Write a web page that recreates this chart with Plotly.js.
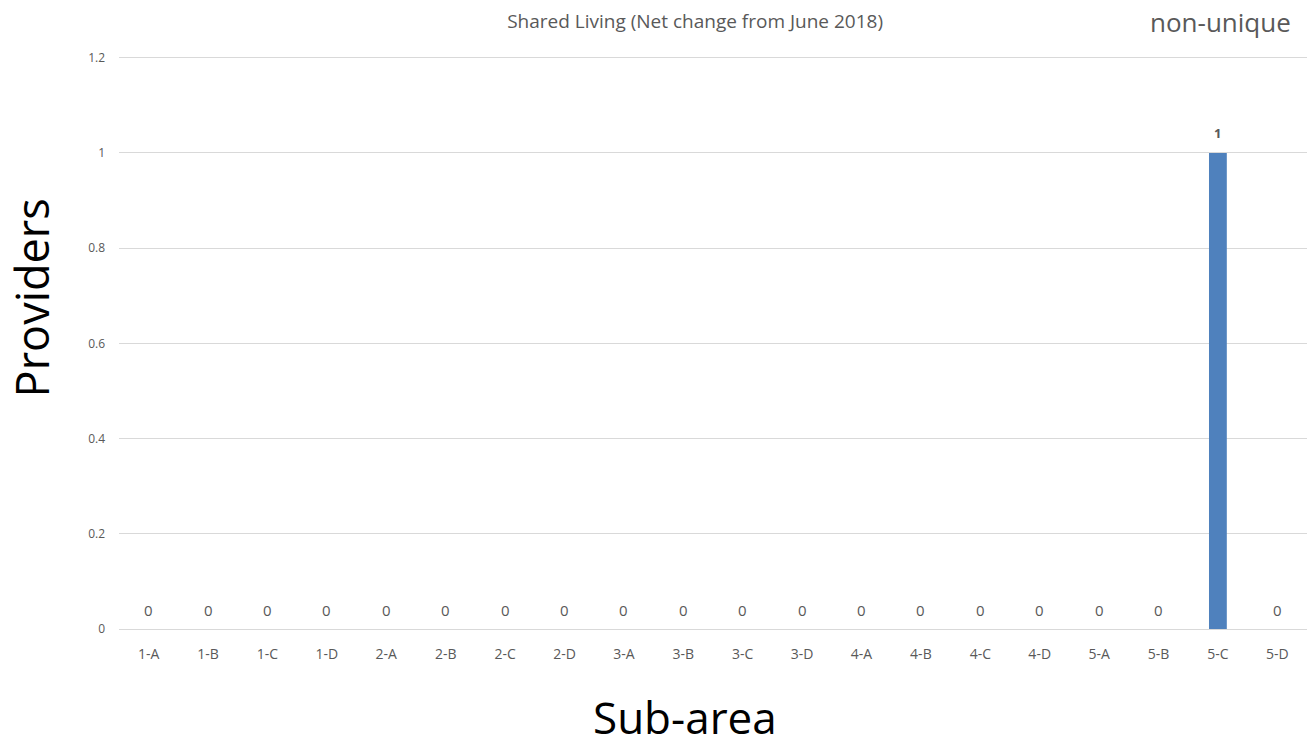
<!DOCTYPE html>
<html>
<head>
<meta charset="utf-8">
<script src="https://cdn.plot.ly/plotly-3.0.1.min.js"></script>
<style>html,body{margin:0;padding:0;background:#fff;}#chart{width:1314px;height:751px;}</style>
</head>
<body>
<div id="chart"></div>
<script>
const categories = ['1-A','1-B','1-C','1-D','2-A','2-B','2-C','2-D','3-A','3-B','3-C','3-D','4-A','4-B','4-C','4-D','5-A','5-B','5-C','5-D'];
const providers = [0,0,0,0,0,0,0,0,0,0,0,0,0,0,0,0,0,0,1,0];
const yTicks = [0,0.2,0.4,0.6,0.8,1,1.2];

const trace = {
  type: 'bar',
  x: categories,
  y: providers,
  marker: {color: '#4f81bd'},
  hoverinfo: 'x+y'
};

const valueLabels = categories.map((c, i) => ({
  x: c, y: providers[i], xref: 'x', yref: 'y',
  text: providers[i] > 0 ? '<b>' + providers[i] + '</b>' : String(providers[i]),
  showarrow: false, yanchor: 'middle', xanchor: 'center',
  yshift: providers[i] > 0 ? 20 : 19,
  font: {size: providers[i] > 0 ? 13 : 15, color: '#595959'}
}));

const layout = {
  width: 1314, height: 751,
  margin: {l: 119, r: 7, t: 53, b: 122},
  paper_bgcolor: '#fff', plot_bgcolor: '#fff',
  font: {family: 'Open Sans, sans-serif', color: '#595959'},
  showlegend: false,
  bargap: 0.7,
  title: {text: 'Shared Living (Net change from June 2018)', font: {size: 19, color: '#595959'}, x: 0.529, xanchor: 'center', y: 0.972, yanchor: 'middle'},
  xaxis: {
    type: 'category',
    showgrid: false,
    showline: true, linecolor: '#d9d9d9', linewidth: 1,
    ticks: '', tickfont: {size: 14, color: '#595959'},
    ticklabelstandoff: 12
  },
  yaxis: {
    range: [0, 1.21],
    tickvals: yTicks,
    ticktext: yTicks.map(String),
    showgrid: true, gridcolor: '#d9d9d9', gridwidth: 1,
    zeroline: false,
    showline: false,
    ticks: '', tickfont: {size: 12, color: '#595959'},
    ticklabelstandoff: 13
  },
  annotations: valueLabels.concat([
    {
      text: 'non-unique', xref: 'paper', yref: 'paper', x: 1.0, y: 1.0, yshift: 31,
      xanchor: 'right', yanchor: 'middle', showarrow: false, xshift: -14,
      font: {size: 26, color: '#595959'}
    },
    {
      text: 'Sub-area', xref: 'paper', yref: 'paper', x: 0.4765, y: 0, yshift: -88,
      xanchor: 'center', yanchor: 'middle', showarrow: false,
      font: {size: 44, color: '#000'}
    },
    {
      text: 'Providers', xref: 'paper', yref: 'paper', x: 0, y: 0.574, xshift: -88,
      xanchor: 'center', yanchor: 'middle', showarrow: false, textangle: -90,
      font: {size: 45, color: '#000'}
    }
  ])
};

Plotly.newPlot('chart', [trace], layout, {displayModeBar: false, staticPlot: true});
</script>
</body>
</html>
